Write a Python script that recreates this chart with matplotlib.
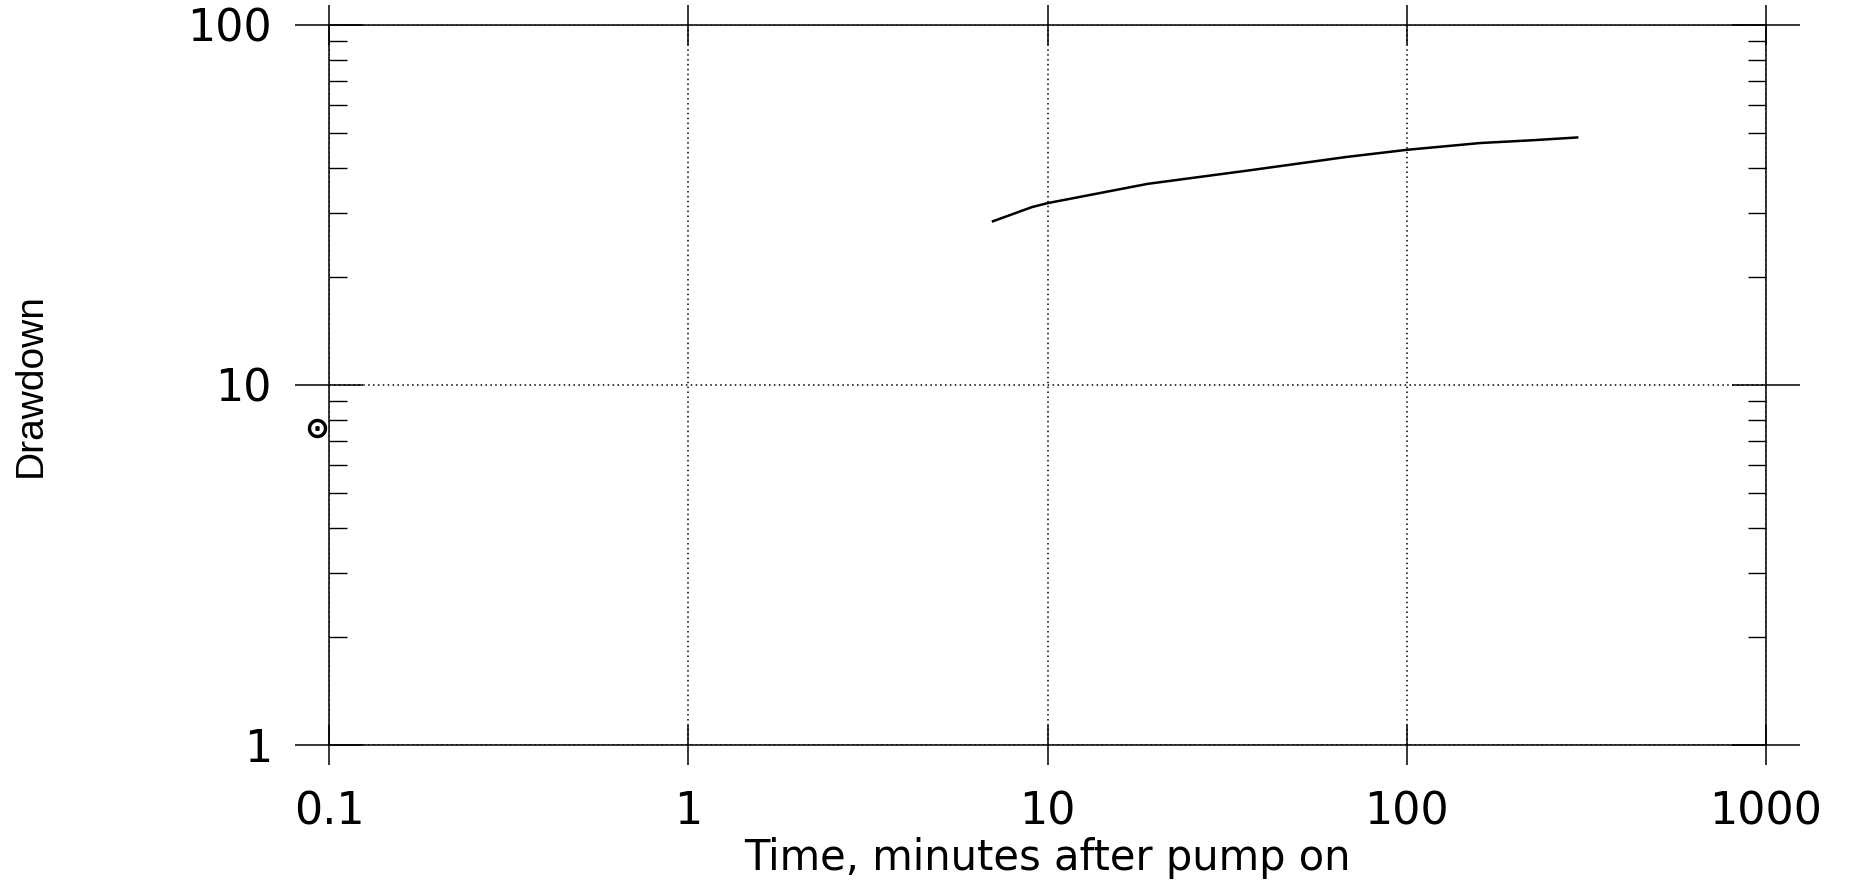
import matplotlib.pyplot as plt
from matplotlib.ticker import LogLocator, FixedLocator, FixedFormatter, NullLocator

# drawdown curve
time_min = [7.05, 9.05, 10, 19, 36, 68, 100, 160, 220, 298]
drawdown = [28.5, 31.2, 32.0, 36.2, 39.4, 43.0, 45.0, 47.0, 47.8, 48.7]

# lone early reading next to the left axis
early_time = [0.0925]
early_drawdown = [7.6]

x_ticks = [0.1, 1, 10, 100, 1000]
x_tick_labels = ['0.1', '1', '10', '100', '1000']
y_ticks = [1, 10, 100]
y_tick_labels = ['1', '10', '100']

fig = plt.figure(figsize=(18.58, 8.83), dpi=100)
ax = fig.add_axes([0.1771, 0.1563, 0.7734, 0.8154])

ax.set_xscale('log')
ax.set_yscale('log')
ax.set_xlim(0.1, 1000)
ax.set_ylim(1, 100)

ax.plot(time_min, drawdown, color='black', linewidth=1.8)
ax.plot(early_time, early_drawdown, linestyle='none', marker=r'$\odot$',
        markersize=13, color='black', clip_on=False)

# frame and crossing tick lines
for s in ax.spines.values():
    s.set_linewidth(1.1)
    s.set_color('black')

ax.xaxis.set_major_locator(FixedLocator(x_ticks))
ax.xaxis.set_major_formatter(FixedFormatter(x_tick_labels))
ax.xaxis.set_minor_locator(NullLocator())
ax.yaxis.set_major_locator(FixedLocator(y_ticks))
ax.yaxis.set_major_formatter(FixedFormatter(y_tick_labels))
ax.yaxis.set_minor_locator(LogLocator(base=10, subs=range(2, 10)))
ax.yaxis.set_minor_formatter(FixedFormatter([]))

ax.tick_params(axis='x', which='major', direction='inout', length=29, width=1.1,
               top=True, bottom=True, pad=18, labelsize=32)
ax.tick_params(axis='y', which='major', direction='inout', length=49, width=1.1,
               left=True, right=True, pad=16.5, labelsize=32)
ax.tick_params(axis='y', which='minor', direction='in', length=13, width=1.0,
               left=True, right=True)

ax.grid(True, which='major', axis='both', color='black', linestyle=(0, (1, 2.2)),
        linewidth=1.1)

ax.set_xlabel('Time, minutes after pump on', fontsize=30, va='baseline')
ax.xaxis.set_label_coords(0.5, -0.1736)
ax.set_ylabel('Drawdown', fontsize=28, va='center', family='Liberation Sans')
ax.yaxis.set_label_coords(-0.2075, 0.5)

fig.savefig('out.png', dpi=100)
plt.close(fig)
